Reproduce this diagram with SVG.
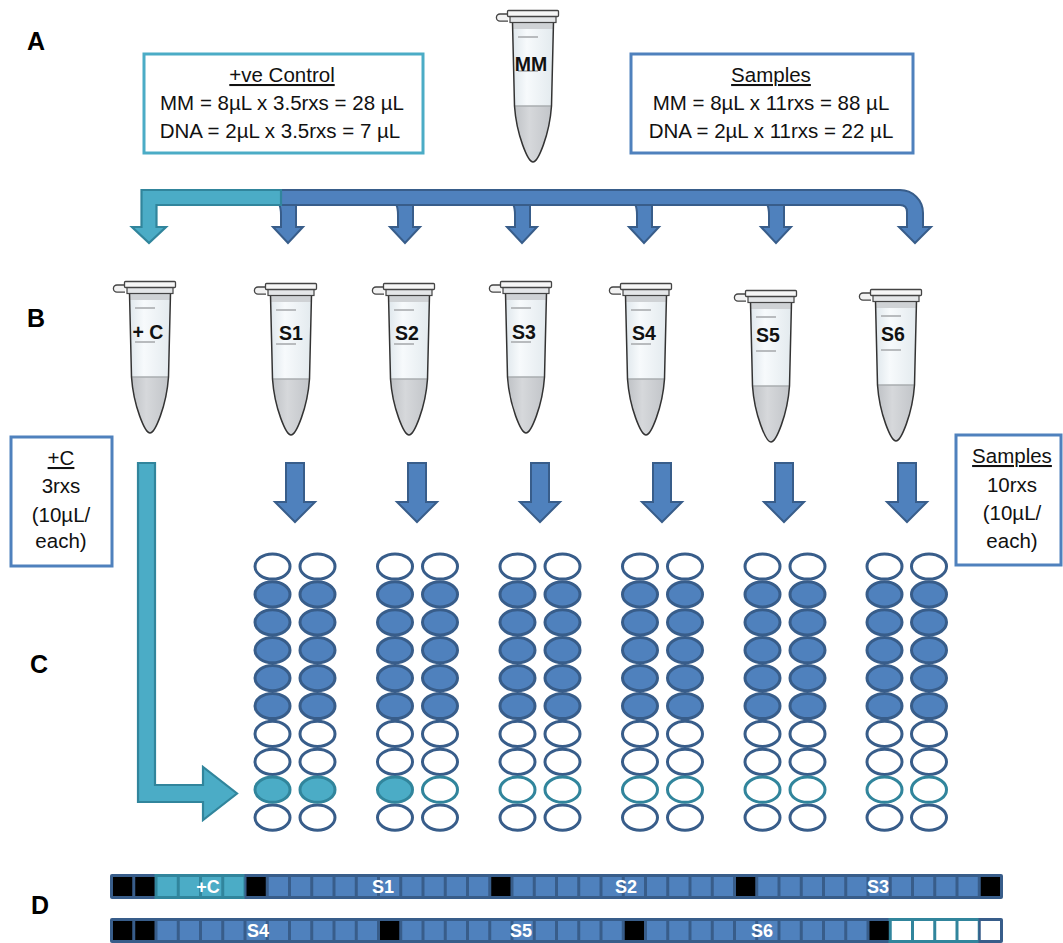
<svg xmlns="http://www.w3.org/2000/svg" xmlns:xlink="http://www.w3.org/1999/xlink" width="1063" height="943" viewBox="0 0 1063 943">
  <style>
    .sec { font-family: "Liberation Sans", Arial, sans-serif; font-weight: bold; font-size: 25px; fill: #000; }
    .txt { font-family: "Liberation Sans", Arial, sans-serif; font-size: 20.5px; fill: #111; text-anchor: middle; }
    .ul { text-decoration: underline; }
    .tl { font-family: "Liberation Sans", Arial, sans-serif; font-weight: bold; font-size: 19.5px; fill: #111; text-anchor: middle; }
    .sl { font-family: "Liberation Sans", Arial, sans-serif; font-weight: bold; font-size: 18px; fill: #fff; text-anchor: middle; }
    .box-teal { fill: #fff; stroke: #4BACC6; stroke-width: 3; }
    .box-blue { fill: #fff; stroke: #4F81BD; stroke-width: 3; }
    .arr-blue { fill: #4F81BD; stroke: #385D8A; stroke-width: 2; stroke-linejoin: miter; }
    .arr-teal { fill: #4BACC6; stroke: #31859C; stroke-width: 2.2; stroke-linejoin: miter; }
    .w-blue { fill: #4F81BD; stroke: #385D8A; stroke-width: 3; }
    .w-white { fill: #fff; stroke: #385D8A; stroke-width: 3; }
    .w-teal { fill: #4BACC6; stroke: #31859C; stroke-width: 3; }
    .w-tealo { fill: #fff; stroke: #31859C; stroke-width: 3; }
    .cb { fill: #4F81BD; }
    .ck { fill: #000; }
    .ct { fill: #4BACC6; }
    .cw { fill: #fff; }
  </style>
  <defs>
    <linearGradient id="glass" x1="0" y1="0" x2="1" y2="0">
      <stop offset="0" stop-color="#dfe7ec"/>
      <stop offset="0.35" stop-color="#f7fafc"/>
      <stop offset="1" stop-color="#e3eaee"/>
    </linearGradient>
    <linearGradient id="liquid" x1="0" y1="0" x2="1" y2="0">
      <stop offset="0" stop-color="#bfc2c6"/>
      <stop offset="0.4" stop-color="#d6d8db"/>
      <stop offset="1" stop-color="#c2c5c9"/>
    </linearGradient>
    <!-- microcentrifuge tube, centred on x=0, cap top at y=0 -->
    <g id="tube">
      <path d="M -25,4 L -33,4 A 3.6 3.6 0 0 0 -33,11.2 L -25,11.2" fill="#f2f2f2" stroke="#444" stroke-width="1.3"/>
      <path d="M -20.5,12 L -18.5,96 C -16.5,125 -5,152 0,152 C 5,152 16.5,125 18.5,96 L 20.5,12 Z" fill="url(#glass)"/>
      <path d="M -18.5,96 L 18.5,96 C 16.5,125 5,152 0,152 C -5,152 -16.5,125 -18.5,96 Z" fill="url(#liquid)"/>
      <rect x="-20" y="12" width="40" height="7" fill="#cfd2d5"/>
      <line x1="-15" y1="27" x2="5" y2="27" stroke="#b8bbbe" stroke-width="2"/>
      <line x1="-15" y1="61" x2="5" y2="61" stroke="#b8bbbe" stroke-width="2"/>
      <line x1="-18.5" y1="96" x2="18.5" y2="96" stroke="#a9acaf" stroke-width="1.6"/>
      <path d="M -20.5,12 L -18.5,96 C -16.5,125 -5,152 0,152 C 5,152 16.5,125 18.5,96 L 20.5,12" fill="none" stroke="#333" stroke-width="1.5"/>
      <rect x="-23" y="6" width="46" height="6.5" fill="#e4e6e8" stroke="#444" stroke-width="1.2"/>
      <rect x="-25.5" y="0.5" width="51" height="6" rx="1" fill="#f6f6f6" stroke="#444" stroke-width="1.3"/>
    </g>
    <!-- plate column: rows 0-7 and 9 (row 8 drawn per column) -->
    <g id="col">
      <ellipse cx="0" cy="566.5" rx="17.5" ry="12.6" class="w-white"/>
      <ellipse cx="0" cy="594.4" rx="17.5" ry="12.6" class="w-blue"/>
      <ellipse cx="0" cy="622.3" rx="17.5" ry="12.6" class="w-blue"/>
      <ellipse cx="0" cy="650.2" rx="17.5" ry="12.6" class="w-blue"/>
      <ellipse cx="0" cy="678.1" rx="17.5" ry="12.6" class="w-blue"/>
      <ellipse cx="0" cy="706" rx="17.5" ry="12.6" class="w-blue"/>
      <ellipse cx="0" cy="733.9" rx="17.5" ry="12.6" class="w-white"/>
      <ellipse cx="0" cy="761.8" rx="17.5" ry="12.6" class="w-white"/>
      <ellipse cx="0" cy="817.6" rx="17.5" ry="12.6" class="w-white"/>
    </g>
    <rect id="cell" y="0" width="19.25" height="19"/>
  </defs>

  <rect width="1063" height="943" fill="#fff"/>

  <!-- section letters -->
  <text class="sec" x="27" y="50">A</text>
  <text class="sec" x="27" y="327">B</text>
  <text class="sec" x="30" y="673">C</text>
  <text class="sec" x="31" y="914">D</text>

  <!-- reaction mix boxes -->
  <g id="box-control">
    <rect class="box-teal" x="144" y="54" width="279" height="99"/>
    <text class="txt ul" x="282" y="82">+ve Control</text>
    <text class="txt" x="282" y="110">MM = 8µL x 3.5rxs = 28 µL</text>
    <text class="txt" x="280" y="138">DNA = 2µL x 3.5rxs = 7 µL</text>
  </g>
  <g id="box-samples">
    <rect class="box-blue" x="631" y="54" width="282" height="99"/>
    <text class="txt ul" x="771" y="82">Samples</text>
    <text class="txt" x="771" y="110">MM = 8µL x 11rxs = 88 µL</text>
    <text class="txt" x="771" y="138">DNA = 2µL x 11rxs = 22 µL</text>
  </g>

  <!-- master mix tube -->
  <g id="tube-mm">
    <use href="#tube" transform="translate(533,10)"/>
    <text class="tl" x="531" y="71">MM</text>
  </g>

  <!-- connectors -->
  <g id="connectors">
    <!-- distribution bar with drop arrows -->
    <path class="arr-blue" d="M 279,204 Q 281,208 281,215 L 281,227 L 273,227 L 288,243 L 303,227 L 296,227 L 296,204 Z"/>
    <path class="arr-blue" d="M 396,204 Q 398,208 398,215 L 398,227 L 390,227 L 405,243 L 420,227 L 413,227 L 413,204 Z"/>
    <path class="arr-blue" d="M 513,204 Q 515,208 515,215 L 515,227 L 507,227 L 522,243 L 537,227 L 530,227 L 530,204 Z"/>
    <path class="arr-blue" d="M 635,204 Q 637,208 637,215 L 637,227 L 629,227 L 644,243 L 659,227 L 652,227 L 652,204 Z"/>
    <path class="arr-blue" d="M 767,204 Q 769,208 769,215 L 769,227 L 761,227 L 776,243 L 791,227 L 784,227 L 784,204 Z"/>
    <path class="arr-blue" d="M 280,190 L 900,190 A 23 23 0 0 1 923,213 L 923,227 L 931,227 L 915,243 L 899,227 L 907,227 L 907,212 Q 907,205 900,205 L 280,205 Z"/>
    <path class="arr-teal" d="M 141.5,190 L 281,190 L 281,205 L 156.5,205 L 156.5,227 L 166,227 L 149,243 L 132,227 L 141.5,227 Z"/>

    <!-- tube to plate arrows -->
    <path class="arr-blue" d="M 286,463 L 304,463 L 304,502 L 315,502 L 295,522 L 275,502 L 286,502 Z"/>
    <path class="arr-blue" d="M 408,463 L 426,463 L 426,502 L 437,502 L 417,522 L 397,502 L 408,502 Z"/>
    <path class="arr-blue" d="M 531,463 L 549,463 L 549,502 L 560,502 L 540,522 L 520,502 L 531,502 Z"/>
    <path class="arr-blue" d="M 653,463 L 671,463 L 671,502 L 682,502 L 662,522 L 642,502 L 653,502 Z"/>
    <path class="arr-blue" d="M 775,463 L 793,463 L 793,502 L 804,502 L 784,522 L 764,502 L 775,502 Z"/>
    <path class="arr-blue" d="M 898,463 L 916,463 L 916,502 L 927,502 L 907,522 L 887,502 L 898,502 Z"/>

    <!-- positive control route -->
    <path class="arr-teal" d="M 138,463 L 155,463 L 155,785 L 203,785 L 203,767 L 237,793.5 L 203,820 L 203,802 L 138,802 Z"/>
  </g>

  <!-- reaction tubes -->
  <g id="tube-pc">
    <use href="#tube" transform="translate(150,281)"/>
    <text class="tl" x="148" y="339">+ C</text>
  </g>
  <g id="tube-s1">
    <use href="#tube" transform="translate(291,283)"/>
    <text class="tl" x="291" y="340">S1</text>
  </g>
  <g id="tube-s2">
    <use href="#tube" transform="translate(409,283)"/>
    <text class="tl" x="407" y="340">S2</text>
  </g>
  <g id="tube-s3">
    <use href="#tube" transform="translate(526,281)"/>
    <text class="tl" x="524" y="339">S3</text>
  </g>
  <g id="tube-s4">
    <use href="#tube" transform="translate(646,283)"/>
    <text class="tl" x="644" y="340">S4</text>
  </g>
  <g id="tube-s5">
    <use href="#tube" transform="translate(771,290)"/>
    <text class="tl" x="768" y="342">S5</text>
  </g>
  <g id="tube-s6">
    <use href="#tube" transform="translate(896,289)"/>
    <text class="tl" x="893" y="341">S6</text>
  </g>

  <!-- aliquot boxes -->
  <g id="box-pc-rxs">
    <rect class="box-blue" x="11" y="437" width="101" height="129"/>
    <text class="txt ul" x="61" y="465">+C</text>
    <text class="txt" x="61" y="493">3rxs</text>
    <text class="txt" x="61" y="522">(10µL/</text>
    <text class="txt" x="61" y="548">each)</text>
  </g>
  <g id="box-sample-rxs">
    <rect class="box-blue" x="956" y="435" width="105" height="130"/>
    <text class="txt ul" x="1012" y="463">Samples</text>
    <text class="txt" x="1012" y="492">10rxs</text>
    <text class="txt" x="1012" y="520">(10µL/</text>
    <text class="txt" x="1012" y="548">each)</text>
  </g>

  <!-- plate columns -->
  <g id="plate-s1">
    <use href="#col" x="272.5"/>
    <use href="#col" x="317.5"/>
    <ellipse cx="272.5" cy="789.7" rx="17.5" ry="12.6" class="w-teal"/>
    <ellipse cx="317.5" cy="789.7" rx="17.5" ry="12.6" class="w-teal"/>
  </g>
  <g id="plate-s2">
    <use href="#col" x="395"/>
    <use href="#col" x="440"/>
    <ellipse cx="395" cy="789.7" rx="17.5" ry="12.6" class="w-teal"/>
    <ellipse cx="440" cy="789.7" rx="17.5" ry="12.6" class="w-tealo"/>
  </g>
  <g id="plate-s3">
    <use href="#col" x="517.5"/>
    <use href="#col" x="562.5"/>
    <ellipse cx="517.5" cy="789.7" rx="17.5" ry="12.6" class="w-tealo"/>
    <ellipse cx="562.5" cy="789.7" rx="17.5" ry="12.6" class="w-tealo"/>
  </g>
  <g id="plate-s4">
    <use href="#col" x="640"/>
    <use href="#col" x="685"/>
    <ellipse cx="640" cy="789.7" rx="17.5" ry="12.6" class="w-tealo"/>
    <ellipse cx="685" cy="789.7" rx="17.5" ry="12.6" class="w-tealo"/>
  </g>
  <g id="plate-s5">
    <use href="#col" x="762.5"/>
    <use href="#col" x="807.5"/>
    <ellipse cx="762.5" cy="789.7" rx="17.5" ry="12.6" class="w-tealo"/>
    <ellipse cx="807.5" cy="789.7" rx="17.5" ry="12.6" class="w-tealo"/>
  </g>
  <g id="plate-s6">
    <use href="#col" x="884.5"/>
    <use href="#col" x="929"/>
    <ellipse cx="884.5" cy="789.7" rx="17.5" ry="12.6" class="w-tealo"/>
    <ellipse cx="929" cy="789.7" rx="17.5" ry="12.6" class="w-tealo"/>
  </g>

  <!-- gel lane strip 1 -->
  <g id="strip-1">
    <rect x="110" y="874" width="893" height="25" rx="2" fill="#385D8A"/>
    <rect x="154.5" y="874" width="90" height="25" fill="#31859C"/>
    <g transform="translate(0,877)">
      <use href="#cell" x="113" class="ck"/><use href="#cell" x="135.25" class="ck"/>
      <use href="#cell" x="157.5" class="ct"/><use href="#cell" x="179.75" class="ct"/><use href="#cell" x="202" class="ct"/><use href="#cell" x="224.25" class="ct"/>
      <use href="#cell" x="246.5" class="ck"/>
      <use href="#cell" x="268.75" class="cb"/><use href="#cell" x="291" class="cb"/><use href="#cell" x="313.25" class="cb"/><use href="#cell" x="335.5" class="cb"/><use href="#cell" x="357.75" class="cb"/>
      <use href="#cell" x="380" class="cb"/><use href="#cell" x="402.25" class="cb"/><use href="#cell" x="424.5" class="cb"/><use href="#cell" x="446.75" class="cb"/><use href="#cell" x="469" class="cb"/>
      <use href="#cell" x="491.25" class="ck"/>
      <use href="#cell" x="513.5" class="cb"/><use href="#cell" x="535.75" class="cb"/><use href="#cell" x="558" class="cb"/><use href="#cell" x="580.25" class="cb"/><use href="#cell" x="602.5" class="cb"/>
      <use href="#cell" x="624.75" class="cb"/><use href="#cell" x="647" class="cb"/><use href="#cell" x="669.25" class="cb"/><use href="#cell" x="691.5" class="cb"/><use href="#cell" x="713.75" class="cb"/>
      <use href="#cell" x="736" class="ck"/>
      <use href="#cell" x="758.25" class="cb"/><use href="#cell" x="780.5" class="cb"/><use href="#cell" x="802.75" class="cb"/><use href="#cell" x="825" class="cb"/><use href="#cell" x="847.25" class="cb"/>
      <use href="#cell" x="869.5" class="cb"/><use href="#cell" x="891.75" class="cb"/><use href="#cell" x="914" class="cb"/><use href="#cell" x="936.25" class="cb"/><use href="#cell" x="958.5" class="cb"/>
      <use href="#cell" x="980.75" class="ck"/>
    </g>
    <text class="sl" x="208" y="893">+C</text>
    <text class="sl" x="383" y="893">S1</text>
    <text class="sl" x="626" y="893">S2</text>
    <text class="sl" x="878" y="893">S3</text>
  </g>

  <!-- gel lane strip 2 -->
  <g id="strip-2">
    <rect x="110" y="918" width="893" height="25" rx="2" fill="#385D8A"/>
    <rect x="888.5" y="918" width="90" height="25" fill="#31859C"/>
    <g transform="translate(0,921)">
      <use href="#cell" x="113" class="ck"/><use href="#cell" x="135.25" class="ck"/>
      <use href="#cell" x="157.5" class="cb"/><use href="#cell" x="179.75" class="cb"/><use href="#cell" x="202" class="cb"/><use href="#cell" x="224.25" class="cb"/><use href="#cell" x="246.5" class="cb"/>
      <use href="#cell" x="268.75" class="cb"/><use href="#cell" x="291" class="cb"/><use href="#cell" x="313.25" class="cb"/><use href="#cell" x="335.5" class="cb"/><use href="#cell" x="357.75" class="cb"/>
      <use href="#cell" x="380" class="ck"/>
      <use href="#cell" x="402.25" class="cb"/><use href="#cell" x="424.5" class="cb"/><use href="#cell" x="446.75" class="cb"/><use href="#cell" x="469" class="cb"/><use href="#cell" x="491.25" class="cb"/>
      <use href="#cell" x="513.5" class="cb"/><use href="#cell" x="535.75" class="cb"/><use href="#cell" x="558" class="cb"/><use href="#cell" x="580.25" class="cb"/><use href="#cell" x="602.5" class="cb"/>
      <use href="#cell" x="624.75" class="ck"/>
      <use href="#cell" x="647" class="cb"/><use href="#cell" x="669.25" class="cb"/><use href="#cell" x="691.5" class="cb"/><use href="#cell" x="713.75" class="cb"/><use href="#cell" x="736" class="cb"/>
      <use href="#cell" x="758.25" class="cb"/><use href="#cell" x="780.5" class="cb"/><use href="#cell" x="802.75" class="cb"/><use href="#cell" x="825" class="cb"/><use href="#cell" x="847.25" class="cb"/>
      <use href="#cell" x="869.5" class="ck"/>
      <use href="#cell" x="891.75" class="cw"/><use href="#cell" x="914" class="cw"/><use href="#cell" x="936.25" class="cw"/><use href="#cell" x="958.5" class="cw"/>
      <use href="#cell" x="980.75" class="cw"/>
    </g>
    <text class="sl" x="258" y="937">S4</text>
    <text class="sl" x="521" y="937">S5</text>
    <text class="sl" x="762" y="937">S6</text>
  </g>
</svg>
